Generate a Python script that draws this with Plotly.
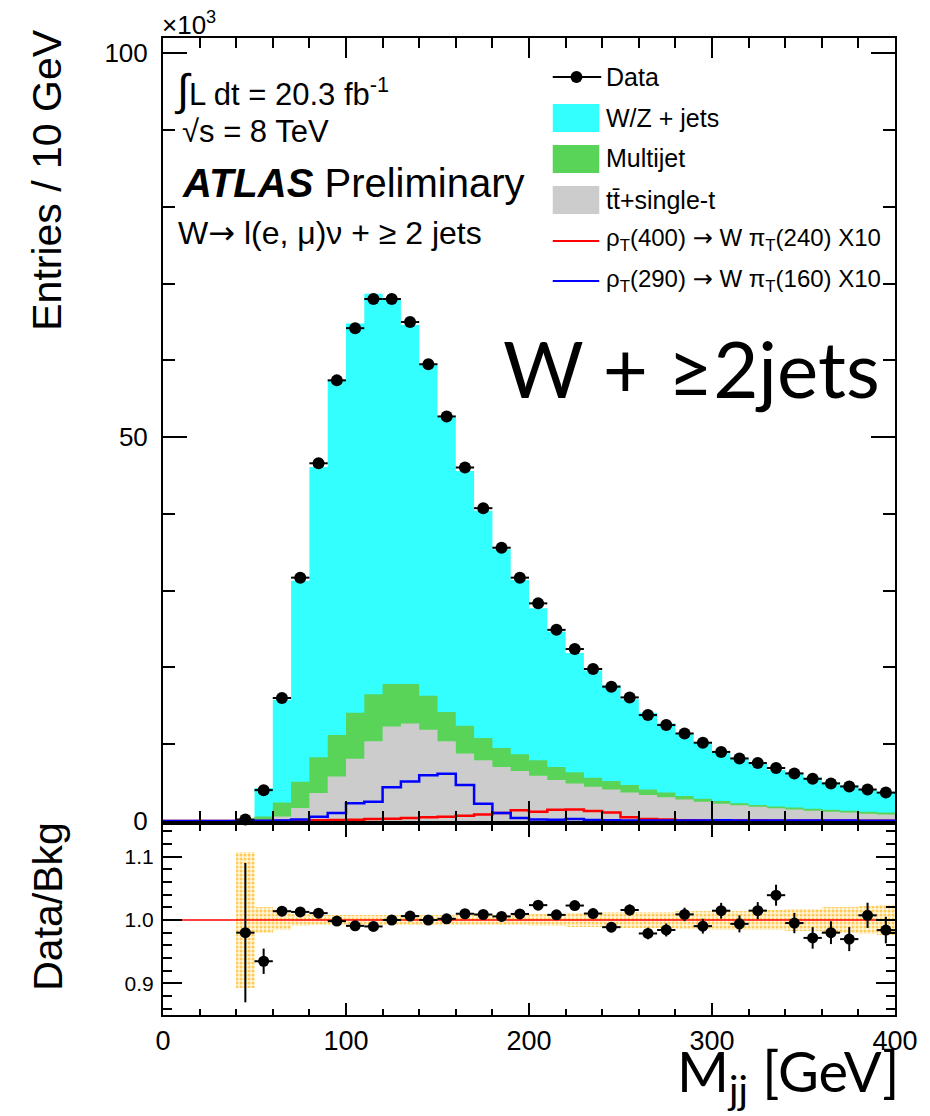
import numpy as np
import plotly.graph_objects as go

# ---------------------------------------------------------------- data
# 10 GeV bins from 0 to 400 GeV; populated bins start at 40 GeV.
bin_edges = list(range(0, 410, 10))
first_filled_bin = 40
bin_centers = [45, 55, 65, 75, 85, 95, 105, 115, 125, 135, 145, 155, 165, 175,
               185, 195, 205, 215, 225, 235, 245, 255, 265, 275, 285, 295, 305,
               315, 325, 335, 345, 355, 365, 375, 385, 395]

# entries per bin, in units of 10^3
data_vals = [0.196, 4.02, 16.02, 31.7, 46.6, 57.4, 64.2, 68.0, 68.0, 65.0, 59.5,
             52.7, 46.05, 40.75, 35.6, 31.7, 28.35, 24.9, 22.4, 19.8, 17.5, 16.1,
             13.8, 12.5, 11.4, 10.2, 9.0, 8.15, 7.55, 6.9, 6.2, 5.5, 4.9, 4.5,
             4.1, 3.7]
data_err = [0.022, 0.086, 0.126, 0.188, 0.23, 0.29, 0.26, 0.27, 0.27, 0.26, 0.24,
            0.26, 0.23, 0.20, 0.21, 0.19, 0.17, 0.17, 0.15, 0.16, 0.14, 0.14,
            0.13, 0.13, 0.12, 0.12, 0.11, 0.11, 0.10, 0.11, 0.10, 0.096, 0.09,
            0.088, 0.081, 0.079]

wz_jets = [0.2, 3.7, 13.4, 26.2, 37.8, 46.3, 50.7, 52.2, 50.15, 46.75, 43.2, 38.4,
           33.2, 29.6, 25.9, 22.7, 19.8, 17.65, 15.55, 13.95, 12.5, 11.15, 10.0,
           9.0, 8.05, 7.4, 6.27, 5.9, 5.34, 4.74, 4.48, 4.06, 3.55, 3.29, 2.87, 2.66]
multijet = [0.0, 0.5, 1.8, 3.4, 4.65, 5.4, 6.0, 6.1, 5.55, 5.15, 4.4, 3.8, 3.6, 2.9,
            2.45, 2.2, 2.0, 1.7, 1.45, 1.2, 1.1, 1.0, 0.7, 0.6, 0.45, 0.4, 0.35,
            0.25, 0.25, 0.25, 0.25, 0.25, 0.25, 0.25, 0.25, 0.25]
top_single_t = [0.0, 0.1, 0.6, 1.7, 3.65, 5.8, 8.1, 10.4, 12.3, 12.7, 11.9, 10.4,
                8.8, 7.9, 7.05, 6.5, 5.9, 5.35, 4.9, 4.45, 4.1, 3.7, 3.4, 3.1, 2.8,
                2.5, 2.25, 2.05, 1.85, 1.65, 1.5, 1.35, 1.2, 1.1, 0.95, 0.85]

# signal templates (x10), over all 40 bins
sig_rho400 = [0, 0, 0, 0, 0, 0, 0.02, 0.05, 0.1, 0.12, 0.17, 0.25, 0.3, 0.38, 0.5,
              0.55, 0.7, 0.85, 1.05, 1.4, 1.2, 1.45, 1.5, 1.3, 1.1, 0.5, 0.25,
              0.18, 0.1, 0.08, 0.06, 0.05, 0.05, 0.04, 0.04, 0.03, 0.03, 0.03,
              0.03, 0.02]
sig_rho290 = [0, 0, 0, 0, 0, 0.02, 0.05, 0.2, 0.55, 1.05, 2.3, 2.5, 4.4, 5.15, 5.95,
              6.15, 4.7, 2.25, 1.05, 0.4, 0.2, 0.17, 0.25, 0.12, 0.1, 0.07, 0.06,
              0.06, 0.08, 0.07, 0.1, 0.08, 0.06, 0.07, 0.06, 0.05, 0.05, 0.05,
              0.04, 0.04]

# relative background uncertainty (half width of the band)
bkg_rel_unc = [0.108, 0.020, 0.016, 0.009, 0.008, 0.008, 0.008, 0.008, 0.008,
               0.008, 0.008, 0.008, 0.008, 0.008, 0.008, 0.008, 0.010, 0.010,
               0.011, 0.011, 0.012, 0.012, 0.013, 0.013, 0.014, 0.014, 0.015,
               0.015, 0.016, 0.016, 0.018, 0.018, 0.020, 0.021, 0.022, 0.023]

y_ticks_main = [0, 50, 100]
y_ticks_ratio = [0.9, 1.0, 1.1]
x_ticks = [0, 100, 200, 300, 400]

# ---------------------------------------------------------------- colours
C_WZ = "#33ffff"
C_MJ = "#59d459"
C_TOP = "#cccccc"
C_RED = "#ff0000"
C_BLUE = "#0000ff"
FONT = "Liberation Sans, Arial, Helvetica, sans-serif"
FONT_BIG = "Lato, Open Sans, sans-serif"
ARROW = "<span style='font-family:DejaVu Sans'>→</span>"

# ---------------------------------------------------------------- geometry (pixels)
W, H = 930, 1116
PL, PR, PT, PB = 163, 903, 38, 1015
MAIN_BOTTOM, RATIO_TOP = 821, 825


def fx(px):
    return (px - PL) / (PR - PL)


def fy(py):
    return (PB - py) / (PB - PT)


# ---------------------------------------------------------------- helpers
n_empty = (first_filled_bin - bin_edges[0]) // 10


def full(vals):
    return [0.0] * n_empty + list(vals)


def step(vals):
    return bin_edges, list(vals) + [vals[-1]]


top_arr = np.array(full(top_single_t))
mj_arr = np.array(full(multijet))
wz_arr = np.array(full(wz_jets))
stack_top = top_arr
stack_mj = top_arr + mj_arr
stack_all = top_arr + mj_arr + wz_arr

total_bkg = np.array(wz_jets) + np.array(multijet) + np.array(top_single_t)
ratio = np.array(data_vals) / total_bkg
ratio_err = np.array(data_err) / total_bkg

fig = go.Figure()

# stacked backgrounds as filled step histograms
for arr, col in [(stack_all, C_WZ), (stack_mj, C_MJ), (stack_top, C_TOP)]:
    xs, ys = step(arr.tolist())
    fig.add_trace(go.Scatter(x=xs, y=ys, mode="lines", line=dict(shape="hv", width=0, color=col),
                             fill="tozeroy", fillcolor=col, hoverinfo="skip", showlegend=False,
                             xaxis="x", yaxis="y"))

# signal templates
for vals, col in [(sig_rho400, C_RED), (sig_rho290, C_BLUE)]:
    xs, ys = step(vals)
    fig.add_trace(go.Scatter(x=xs, y=ys, mode="lines", line=dict(shape="hv", width=2.5, color=col),
                             showlegend=False, xaxis="x", yaxis="y"))

# data points
fig.add_trace(go.Scatter(
    x=bin_centers, y=data_vals, mode="markers",
    marker=dict(size=12, color="black"),
    error_x=dict(type="constant", value=5, width=0, thickness=2, color="black"),
    error_y=dict(type="data", array=data_err, width=0, thickness=2, color="black"),
    cliponaxis=False, showlegend=False, xaxis="x", yaxis="y"))

# ratio panel: background uncertainty band
fig.add_trace(go.Bar(
    x=bin_centers, y=[2 * u for u in bkg_rel_unc], base=[1 - u for u in bkg_rel_unc],
    width=10,
    marker=dict(color="#ffe9a6", line=dict(width=0),
                pattern=dict(shape=".", fgcolor="#ffcb55", bgcolor="#fff6dc",
                             fillmode="replace", size=4, solidity=0.45)),
    showlegend=False, xaxis="x2", yaxis="y2"))

# unity line
fig.add_trace(go.Scatter(x=[0, 400], y=[1, 1], mode="lines", line=dict(color=C_RED, width=1.5),
                         showlegend=False, xaxis="x2", yaxis="y2"))

# data / background
fig.add_trace(go.Scatter(
    x=bin_centers, y=ratio, mode="markers",
    marker=dict(size=11, color="black"),
    error_x=dict(type="constant", value=5, width=0, thickness=2, color="black"),
    error_y=dict(type="data", array=ratio_err, width=0, thickness=2, color="black"),
    showlegend=False, xaxis="x2", yaxis="y2"))

axis_common = dict(showline=True, linecolor="black", linewidth=2, mirror="allticks",
                   ticks="inside", tickcolor="black", showgrid=False, zeroline=False)

fig.update_layout(
    width=W, height=H,
    margin=dict(l=PL, r=W - PR, t=PT, b=H - PB, pad=0),
    paper_bgcolor="white", plot_bgcolor="white",
    barmode="overlay", bargap=0,
    xaxis=dict(domain=[0, 1], range=[0, 400], anchor="y", tickvals=x_ticks, showticklabels=False,
               ticklen=20, tickwidth=1.5,
               minor=dict(dtick=20, ticklen=10, ticks="inside", tickcolor="black", tickwidth=1.5),
               **axis_common),
    yaxis=dict(domain=[fy(MAIN_BOTTOM), 1], range=[0, 102], anchor="x", tickvals=y_ticks_main,
               ticktext=[str(v) for v in y_ticks_main], ticklen=24, tickwidth=1.5,
               tickfont=dict(family=FONT, size=26, color="black"), ticklabelstandoff=8,
               minor=dict(dtick=10, ticklen=12, ticks="inside", tickcolor="black", tickwidth=1.5),
               **axis_common),
    xaxis2=dict(domain=[0, 1], range=[0, 400], anchor="y2", tickvals=x_ticks,
                ticktext=[str(v) for v in x_ticks], ticklen=12, tickwidth=1.5,
                tickfont=dict(family=FONT, size=27, color="black"), ticklabelstandoff=1,
                minor=dict(dtick=20, ticklen=6, ticks="inside", tickcolor="black", tickwidth=1.5),
                **axis_common),
    yaxis2=dict(domain=[0, fy(RATIO_TOP)], range=[0.85, 1.15], anchor="x2", tickvals=y_ticks_ratio,
                ticktext=["0.9", "1.0", "1.1"], ticklen=19, tickwidth=1.5,
                tickfont=dict(family=FONT, size=21, color="black"), ticklabelstandoff=3,
                minor=dict(dtick=0.02, ticklen=9, ticks="inside", tickcolor="black", tickwidth=1.5),
                **axis_common),
)


def text(px, py, s, size, xanchor="left", yanchor="middle", family=FONT, angle=0):
    fig.add_annotation(x=fx(px), y=fy(py), xref="paper", yref="paper", text=s, showarrow=False,
                       xanchor=xanchor, yanchor=yanchor, textangle=angle,
                       font=dict(family=family, size=size, color="black"))


# axis titles and multiplier
text(160, 23, "×10<sup>3</sup>", 26)
text(46, 28, "Entries / 10 GeV", 41, xanchor="center", yanchor="top", angle=-90)
text(46, 820, "Data/Bkg", 41, xanchor="center", yanchor="top", angle=-90)
text(909, 1074, "M<sub>jj</sub> [GeV]", 56, xanchor="right", family=FONT_BIG)

# labels inside the main panel
text(172, 90, "<span style='font-size:44px'>∫</span>L dt = 20.3 fb<sup>-1</sup>", 31)
text(180, 131, "√s = 8 TeV", 31)
text(180, 183, "<b><i>ATLAS</i></b> Preliminary", 40)
text(176, 233, "W" + ARROW + " l(e, μ)ν + ≥ 2 jets", 32)
text(697, 368, "W + ≥2jets", 78, xanchor="center", family=FONT_BIG)

# legend
LX0, LX1 = 557, 604
legend_rows = [
    (77, "Data"),
    (118, "W/Z + jets"),
    (158, "Multijet"),
    (200, "tt\u0304+single-t"),
    (239, "ρ<sub>T</sub>(400) " + ARROW + " W π<sub>T</sub>(240) X10"),
    (280, "ρ<sub>T</sub>(290) " + ARROW + " W π<sub>T</sub>(160) X10"),
]
for yy, label in legend_rows:
    text(609, yy, label, 25 if yy < 230 else 24)

shapes = []
# data entry: line with dot
shapes.append(dict(type="line", xref="paper", yref="paper", x0=fx(LX0), x1=fx(LX1 + 2),
                   y0=fy(77), y1=fy(77), line=dict(color="black", width=2)))
shapes.append(dict(type="circle", xref="paper", yref="paper", x0=fx(575), x1=fx(587),
                   y0=fy(71), y1=fy(83), fillcolor="black", line=dict(color="black", width=0)))
for (yc, col) in [(118, C_WZ), (159, C_MJ), (200, C_TOP)]:
    shapes.append(dict(type="rect", xref="paper", yref="paper", x0=fx(LX0), x1=fx(LX1),
                       y0=fy(yc - 14), y1=fy(yc + 14), fillcolor=col, line=dict(width=0)))
for (yc, col) in [(241, C_RED), (281, C_BLUE)]:
    shapes.append(dict(type="line", xref="paper", yref="paper", x0=fx(LX0), x1=fx(LX1),
                       y0=fy(yc), y1=fy(yc), line=dict(color=col, width=2)))
fig.update_layout(shapes=shapes)

fig.write_html("out.html")
